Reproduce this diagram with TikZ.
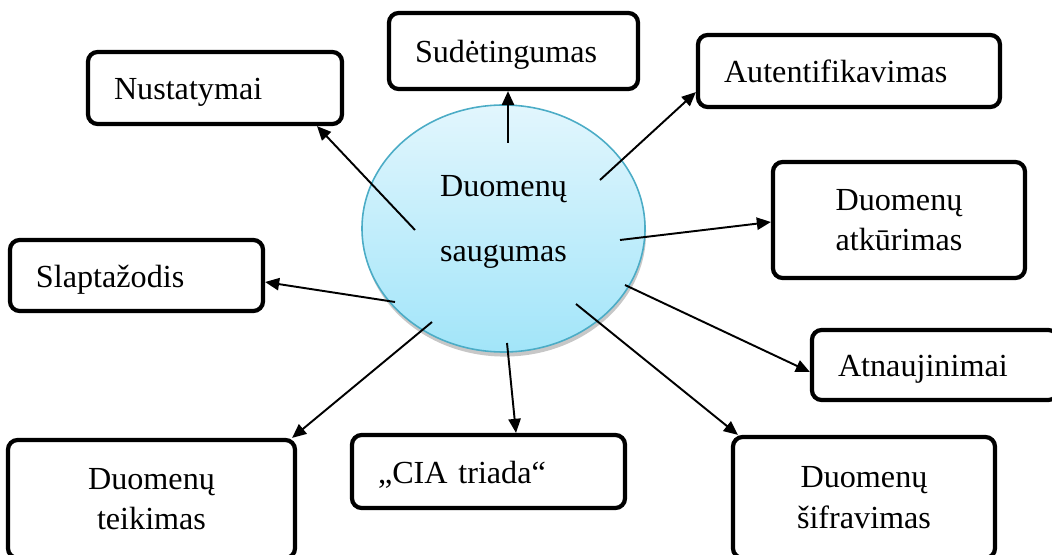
\documentclass[tikz,border=0pt]{standalone}
\usepackage{fontspec}
\setmainfont{Liberation Serif}
\usepackage{xcolor}
\usepackage{tikz}
\usetikzlibrary{arrows.meta, shapes.geometric, shadows, calc}

\definecolor{coretop}{RGB}{226,246,253}
\definecolor{corebot}{RGB}{162,229,249}
\definecolor{coreedge}{RGB}{75,172,198}

\begin{document}
\begin{tikzpicture}[
    box/.style={draw=black, fill=white, rounded corners=5.5pt, line width=2.4pt, font=\fontsize{18.3}{23}\selectfont},
    tagbox/.style={box, align=left, inner xsep=0.52cm, inner ysep=0pt, text height=17pt, text depth=3.4pt},
    pairbox/.style={box, align=center, inner sep=0pt},
    core/.style={ellipse, draw=coreedge, line width=0.9pt, top color=coretop, bottom color=corebot, minimum width=5.66cm, minimum height=4.94cm, drop shadow={shadow xshift=0.6pt, shadow yshift=-2.6pt, opacity=0.22, fill=black}},
    coretext/.style={align=center, font=\fontsize{18.3}{36.5}\selectfont},
    arrow/.style={-{Triangle[length=8pt, width=7pt]}, line width=1.1pt, black}
]

    \useasboundingbox (0, 0) rectangle (21.04, 11.08);
    \clip (0, 0) rectangle (21.04, 11.08);

    % Central topic.
    \node[core] (core) at (10.07, 6.51) {};
    \node[coretext] (corelabel) at ([yshift=0.13cm]core.center) {Duomenų\\saugumas};

    % Single-line boxes, text set to the left.
    \node[tagbox, text width=4.04cm, minimum height=1.44cm] (nust) at (4.30, 9.32) {Nustatymai};
    \node[tagbox, text width=3.94cm, minimum height=1.52cm] (sude) at (10.27, 10.06) {Sudėtingumas};
    \node[tagbox, text width=5.00cm, minimum height=1.44cm] (aute) at (16.98, 9.66) {Autentifikavimas};
    \node[tagbox, text width=4.02cm, minimum height=1.42cm] (slap) at (2.73, 5.57) {Slaptažodis};
    \node[tagbox, text width=3.88cm, minimum height=1.40cm] (atna) at (18.70, 3.78) {Atnaujinimai};
    \node[tagbox, text width=4.42cm, minimum height=1.46cm] (cia)  at (9.77, 1.65) {„CIA triada“};

    % Two-line boxes, text centred.
    \node[pairbox, minimum width=5.04cm, minimum height=2.32cm] (atku) at (17.98, 6.68) {Duomenų\\atkūrimas};
    \node[pairbox, minimum width=5.74cm, minimum height=2.36cm] (teik) at (3.03, 1.10) {Duomenų\\teikimas};
    \node[pairbox, minimum width=5.24cm, minimum height=2.42cm] (sifr) at (17.28, 1.13) {Duomenų\\šifravimas};

    % Arrows leave from inside the ellipse.
    \coordinate (s1) at (8.30, 6.48);
    \coordinate (s2) at (10.16, 8.22);
    \coordinate (s3) at (12.00, 7.48);
    \coordinate (s4) at (12.40, 6.28);
    \coordinate (s5) at (7.90, 5.04);
    \coordinate (s6) at (12.50, 5.38);
    \coordinate (s7) at (8.64, 4.64);
    \coordinate (s8) at (10.14, 4.22);
    \coordinate (s9) at (11.52, 5.00);

    \draw[arrow] (s1) -- ([xshift=2.04cm]nust.south);
    \draw[arrow] (s2) -- ([xshift=-0.11cm]sude.south);
    \draw[arrow] (s3) -- ([yshift=0.34cm]aute.south west);
    \draw[arrow] (s4) -- ([yshift=-0.04cm]atku.west);
    \draw[arrow] (s5) -- ([yshift=-0.13cm]slap.east);
    \draw[arrow] (s6) -- ([yshift=-0.14cm]atna.west);
    \draw[arrow] (s7) -- ([xshift=-0.10cm]teik.north east);
    \draw[arrow] (s8) -- ([xshift=0.55cm]cia.north);
    \draw[arrow] (s9) -- ([xshift=0.14cm]sifr.north west);

\end{tikzpicture}
\end{document}
